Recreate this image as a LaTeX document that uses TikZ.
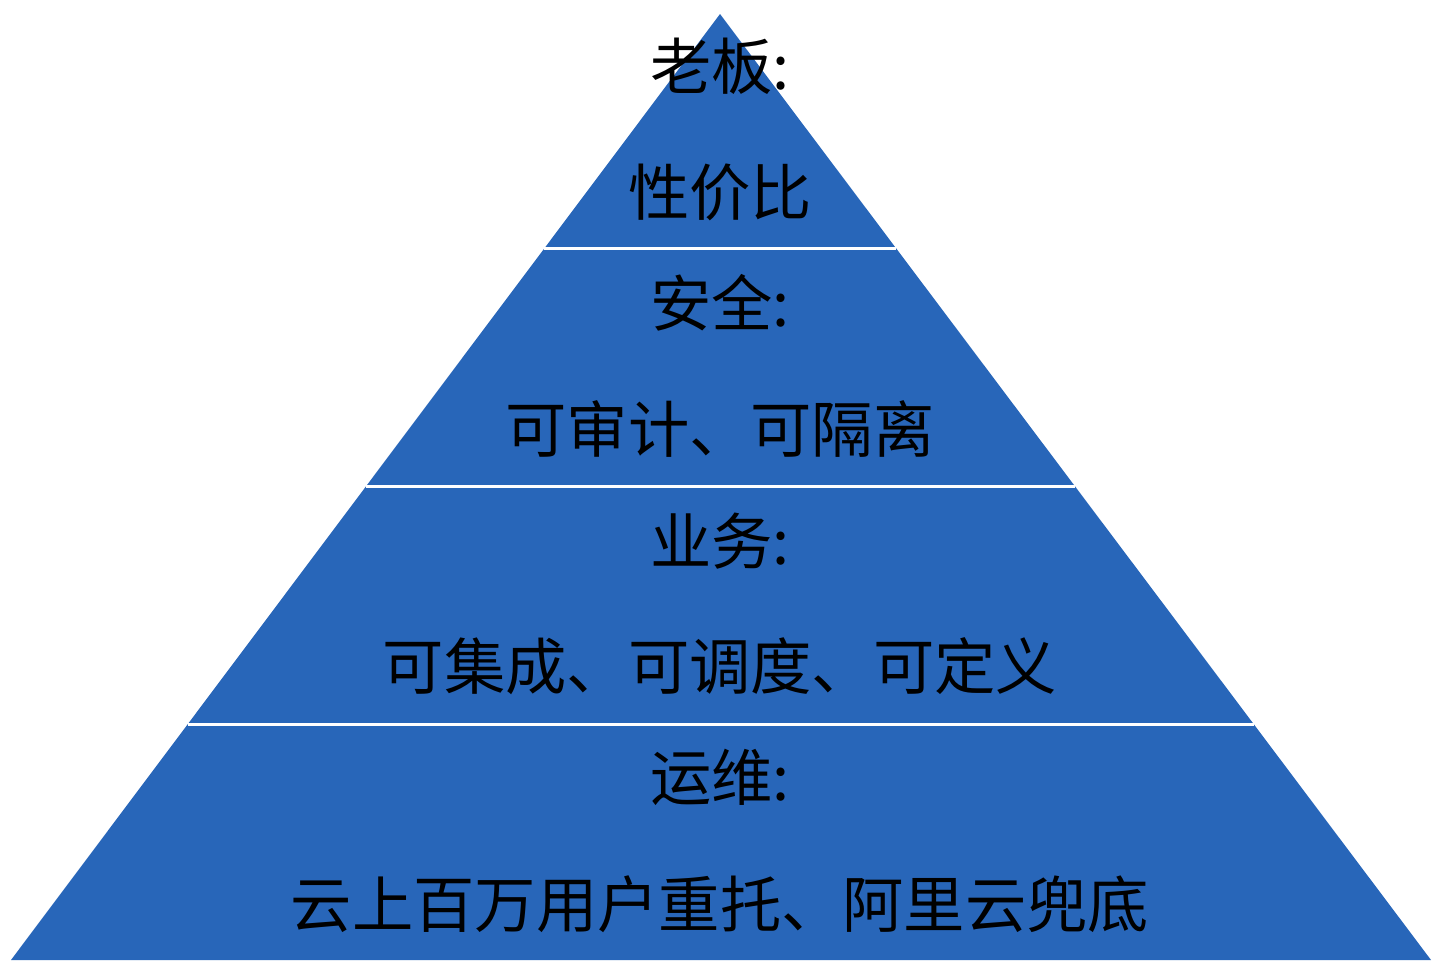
\documentclass[tikz,border=0pt]{standalone}
\usepackage{fontspec}
\newfontfamily\cjk{Noto Sans CJK SC}
\usetikzlibrary{calc}
\definecolor{PyrBlue}{RGB}{40,102,185}
\tikzset{
  layer/.style={fill=PyrBlue,draw=none},
  sep/.style={draw=white,line width=1.7pt},
  lbl/.style={inner sep=0pt,font=\cjk\fontsize{34.9}{40}\selectfont,text=black},
}

\begin{document}
\begin{tikzpicture}[x=0.02cm,y=-0.02cm]
\useasboundingbox (0,0) rectangle (1438,970);
\coordinate (top) at (720,14);
\coordinate (bl) at (11,960);
\coordinate (br) at (1431,960);
\fill[layer] (top)--(bl)--(br)--cycle;
% band borders
\foreach \t/\n in {0.248/a,0.499/b,0.751/c}{
  \coordinate (l\n) at ($(top)!\t!(bl)$);
  \coordinate (r\n) at ($(top)!\t!(br)$);
  \draw[sep] (l\n)--(r\n);
}
\node[lbl] (boss) at (720,66) {老板:};
\node[lbl] (cost) at (720,192) {性价比};
\node[lbl] (safe) at (720,303) {安全:};
\node[lbl] (audit) at (720,429) {可审计、可隔离};
\node[lbl] (biz) at (720,541) {业务:};
\node[lbl] (sched) at (720,666) {可集成、可调度、可定义};
\node[lbl] (ops) at (720,777) {运维:};
\node[lbl] (cloud) at (720,904) {云上百万用户重托、阿里云兜底};
\end{tikzpicture}
\end{document}
